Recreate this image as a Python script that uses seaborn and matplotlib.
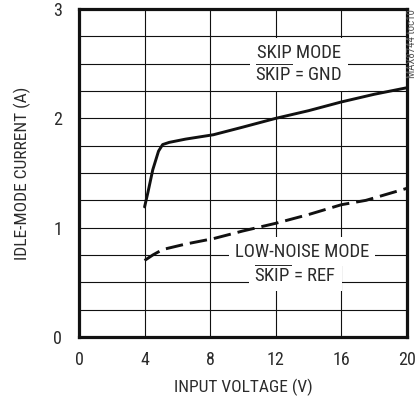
import matplotlib
matplotlib.use("Agg")
import matplotlib.pyplot as plt
import matplotlib.font_manager as fm
import seaborn as sns
import pandas as pd
from matplotlib.ticker import MultipleLocator

# ---- data ----
skip_v = [4.0, 4.2, 4.5, 4.85, 5.1, 5.5, 6.5, 8.2, 10.0, 12.0, 14.0, 16.0, 18.0, 20.0]
skip_i = [1.19, 1.32, 1.53, 1.70, 1.76, 1.78, 1.81, 1.85, 1.92, 2.00, 2.07, 2.15, 2.22, 2.28]
ln_v = [4.0, 4.5, 5.1, 6.5, 8.2, 10.0, 12.0, 14.0, 16.0, 17.5, 20.0]
ln_i = [0.70, 0.75, 0.80, 0.85, 0.90, 0.97, 1.04, 1.12, 1.21, 1.25, 1.36]
x_ticks = [0, 4, 8, 12, 16, 20]
y_ticks = [0, 1, 2, 3]

names = {f.name for f in fm.fontManager.ttflist}
font = "Roboto Condensed" if "Roboto Condensed" in names else "Liberation Sans"

sns.set_theme(style="white")
plt.rcParams["font.family"] = [font, "DejaVu Sans"]
plt.rcParams["mathtext.fontset"] = "custom"
plt.rcParams["mathtext.rm"] = font
plt.rcParams["mathtext.it"] = font

txt = "#2b2b2b"
fig = plt.figure(figsize=(4.17, 4.0), dpi=100)
ax = fig.add_axes([0.1894, 0.1575, 0.7866, 0.82])

df1 = pd.DataFrame({"v": skip_v, "i": skip_i})
df2 = pd.DataFrame({"v": ln_v, "i": ln_i})
sns.lineplot(data=df1, x="v", y="i", ax=ax, color="#111111", lw=2.1, zorder=4)
sns.lineplot(data=df2, x="v", y="i", ax=ax, color="#111111", lw=2.1, zorder=4)
ax.lines[-1].set_dashes([6.0, 2.4])

ax.set_xlim(0, 20)
ax.set_ylim(0, 3)
ax.set_xticks(x_ticks)
ax.set_yticks(y_ticks)
ax.yaxis.set_minor_locator(MultipleLocator(0.25))
ax.set_axisbelow(True)
ax.grid(True, which="both", color="#111111", lw=0.8)
ax.tick_params(which="both", length=0)
ax.tick_params(axis="x", pad=10, labelsize=13, labelcolor=txt)
ax.tick_params(axis="y", pad=12, labelsize=13, labelcolor=txt)
for s in ax.spines.values():
    s.set_linewidth(2.3)
    s.set_color("#111111")
ax.set_xlabel("INPUT VOLTAGE (V)", fontsize=12.5, color=txt, labelpad=7)
ax.set_ylabel("IDLE-MODE CURRENT (A)", fontsize=12.5, color=txt, labelpad=16)

box = dict(facecolor="white", edgecolor="none", pad=4)
kw = dict(ha="center", va="center", fontsize=13.5, color=txt, zorder=3, bbox=box)
ax.text(13.4, 2.60, "SKIP MODE", **kw)
ax.text(13.4, 2.40, r"$\overline{\mathrm{SKIP}}$ = GND", **kw)
ax.text(13.6, 0.78, "LOW-NOISE MODE", **kw)
ax.text(13.2, 0.57, r"$\overline{\mathrm{SKIP}}$ = REF", **kw)

fig.text(0.988, 0.978, "MAX8744 toc10", rotation=90, ha="center", va="top",
         fontsize=7.8, color="#555555")

fig.savefig("out.png", dpi=100)
